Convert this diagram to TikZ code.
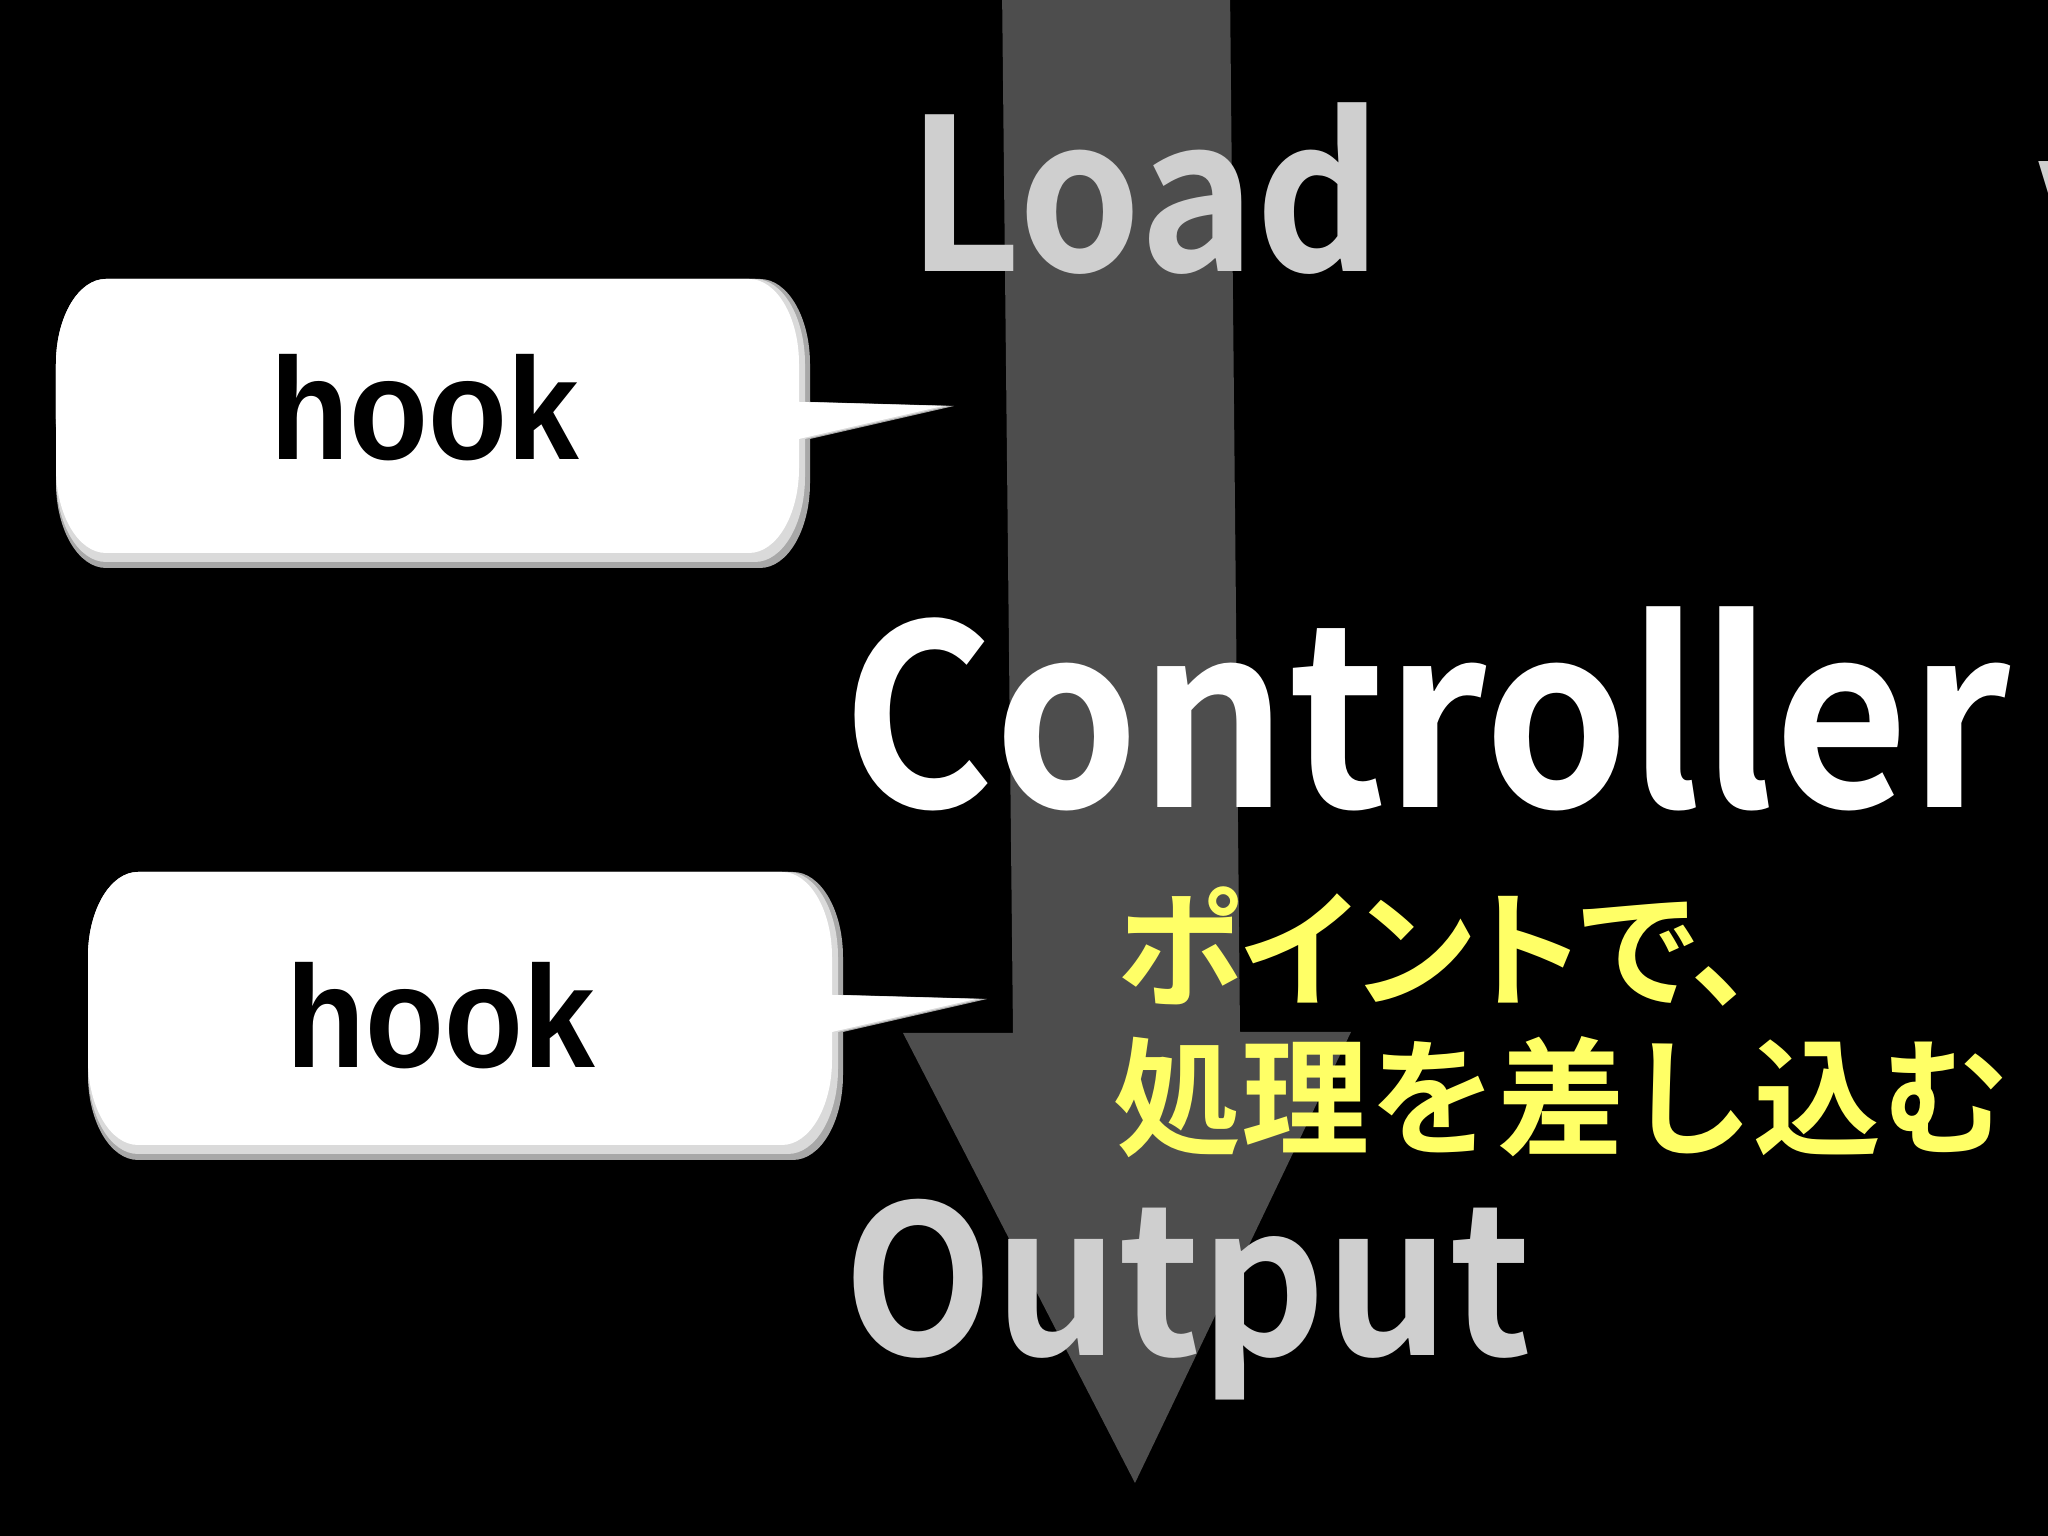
\documentclass[tikz,border=0pt]{standalone}
\usepackage{fontspec}
\usepackage{graphicx}
\usepackage{tikz}
\newfontfamily\jpbold{Noto Sans CJK JP Bold}
\newfontfamily\jppalt{Noto Sans CJK JP Bold}[RawFeature=+palt]
\newfontfamily\hookfont{Liberation Sans Bold}
\definecolor{arrowgray}{HTML}{4D4D4D}
\definecolor{textgray}{HTML}{CFCFCF}
\definecolor{pointyellow}{HTML}{FFFF66}
\definecolor{bevelgray}{HTML}{A8A8A8}
\definecolor{bevellight}{HTML}{DADADA}
\newcommand\latinbig[1]{\jpbold\fontsize{#1}{#1}\selectfont}
\newcommand\narrowtxt[2]{\scalebox{#1}[1]{#2}}
% speech bubble outline: left, top, right, bottom
\newcommand\bubpath[4]{(#1+0.5,#2) -- (#3-0.5,#2) arc[start angle=90,end angle=0,x radius=0.5,y radius=0.85] -- (#3,#2-1.23) -- (#3+1.44,#2-1.27) -- (#3,#2-1.6) -- (#3,#4+0.85) arc[start angle=0,end angle=-90,x radius=0.5,y radius=0.85] -- (#1+0.5,#4) arc[start angle=270,end angle=180,x radius=0.5,y radius=0.85] -- (#1,#2-0.85) arc[start angle=180,end angle=90,x radius=0.5,y radius=0.85] -- cycle}

\begin{document}
\begin{tikzpicture}[
  bigtxt/.style={inner sep=0pt, anchor=base},
  hooktxt/.style={inner sep=0pt, anchor=base, text=black, font=\hookfont\fontsize{41.3}{45}\selectfont},
  pointtxt/.style={inner sep=0pt, anchor=base west, text=pointyellow, font=\jpbold\fontsize{36.4}{44}\selectfont}]
\useasboundingbox (0,0) rectangle (20.48,15.36);
\fill[black] (0,0) rectangle (20.48,15.36);
% flow arrow
\fill[arrowgray] (10.02,15.5) -- (12.30,15.5) -- (12.40,5.04) -- (13.51,5.04) -- (11.35,0.53) -- (9.03,5.03) -- (10.13,5.03) -- cycle;
% stages
\node[bigtxt, text=textgray, font=\latinbig{60.2}] (load) at (11.45,12.64) {\narrowtxt{0.93}{Load}};
\node[bigtxt, text=white, font=\latinbig{71.6}] (ctrl) at (14.265,7.28) {\narrowtxt{0.92}{Controller}};
\node[bigtxt, text=textgray, font=\latinbig{59}] (output) at (11.88,1.80) {\narrowtxt{0.94}{Output}};
\node[bigtxt, anchor=base west, text=textgray, font=\latinbig{43}] (view) at (20.39,12.62) {V};
% hook bubbles
\foreach \bl/\bt/\br/\bb in {0.56/12.57/8.10/9.68, 0.88/6.64/8.43/3.76}{
  \fill[bevelgray] \bubpath{\bl}{\bt}{\br}{\bb};
  \fill[bevellight] \bubpath{\bl}{\bt}{\br-0.05}{\bb+0.06};
  \fill[white] \bubpath{\bl}{\bt}{\br-0.11}{\bb+0.15};
}
\node[hooktxt] (hookA) at (4.245,10.76) {\narrowtxt{0.89}{hook}};
\node[hooktxt] (hookB) at (4.41,4.68) {\narrowtxt{0.89}{hook}};
% note
\node[pointtxt, font=\jppalt\fontsize{36.4}{44}\selectfont] (pointA) at (11.16,5.38) {ポイントで、};
\node[pointtxt] (pointB) at (11.13,3.90) {処理を差し込む};
\end{tikzpicture}
\end{document}
